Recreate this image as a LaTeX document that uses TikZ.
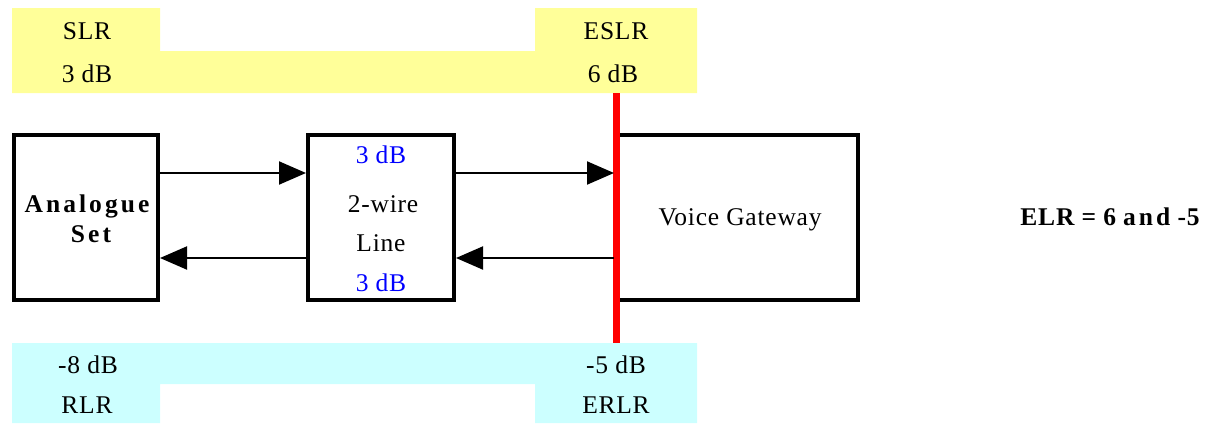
\documentclass[tikz,border=0pt]{standalone}
\usepackage{fontspec}
\setmainfont[LetterSpace=3]{Liberation Serif}
\newfontfamily\spacedfont[LetterSpace=12]{Liberation Serif}
\usetikzlibrary{arrows.meta}
\definecolor{BandYellow}{RGB}{255,255,153}
\definecolor{BandCyan}{RGB}{204,255,255}
\definecolor{GainBlue}{RGB}{0,0,255}
\definecolor{RefRed}{RGB}{255,0,0}

\begin{document}
\begin{tikzpicture}[x=1pt, y=-1pt, font=\fontsize{25.5}{30}\selectfont,
  unit/.style={draw, line width=4pt, minimum height=165pt, inner sep=0pt},
  lbl/.style={anchor=base, inner sep=0pt},
  gain/.style={lbl, text=GainBlue},
  sig/.style={-{Triangle[length=27pt, width=23pt]}, line width=2pt}]
  \useasboundingbox (0,0) rectangle (1210,423);
  % rating bands
  \fill[BandYellow] (12,8) -- (160,8) -- (160,51) -- (535,51) -- (535,8) -- (697,8) -- (697,93) -- (12,93) -- cycle;
  \fill[BandCyan] (12,343) -- (697,343) -- (697,423) -- (535,423) -- (535,384) -- (160,384) -- (160,423) -- (12,423) -- cycle;
  \node[lbl] (slr)   at (87,39)   {SLR};
  \node[lbl] (slrv)  at (87,82)   {3 dB};
  \node[lbl] (eslr)  at (616,39)  {ESLR};
  \node[lbl] (eslrv) at (613,82)  {6 dB};
  \node[lbl] (rlrv)  at (88,373)  {-8 dB};
  \node[lbl] (rlr)   at (87,413)  {RLR};
  \node[lbl] (erlrv) at (616,373) {-5 dB};
  \node[lbl] (erlr)  at (616,413) {ERLR};
  % units
  \node[unit, minimum width=144pt] (set)  at (86,217.5)  {};
  \node[unit, minimum width=146pt] (line) at (381,217.5) {};
  \node[unit, minimum width=242pt] (gw)   at (737,217.5) {};
  \node[lbl, font=\fontsize{25.5}{30}\spacedfont\bfseries] (setA) at (87,212) {Analogue};
  \node[lbl, font=\fontsize{25.5}{30}\spacedfont\bfseries] (setB) at (91,242) {Set};
  \node[gain] (lineup) at (381,163) {3 dB};
  \node[lbl]  (lineA)  at (383,212) {2-wire};
  \node[lbl]  (lineB)  at (381,251) {Line};
  \node[gain] (linedn) at (381,291) {3 dB};
  \node[lbl]  (gwname) at (740,225) {Voice Gateway};
  % reference point
  \coordinate (reftop) at (616,93);
  \coordinate (refbot) at (616,343);
  \draw[RefRed, line width=7pt] (reftop) -- (refbot);
  % signal paths
  \draw[sig] ([yshift=44.5pt]set.east) -- ([yshift=44.5pt]line.west);
  \draw[sig] ([yshift=44.5pt]line.east) -- ([yshift=44.5pt]gw.west);
  \draw[sig] ([yshift=-40.5pt]line.west) -- ([yshift=-40.5pt]set.east);
  \draw[sig] ([yshift=-40.5pt]gw.west) -- ([yshift=-40.5pt]line.east);
  \node[lbl, font=\fontsize{25.5}{30}\selectfont\bfseries] (elr) at (1110,225) {ELR = 6 {\spacedfont and} -5};
\end{tikzpicture}
\end{document}
